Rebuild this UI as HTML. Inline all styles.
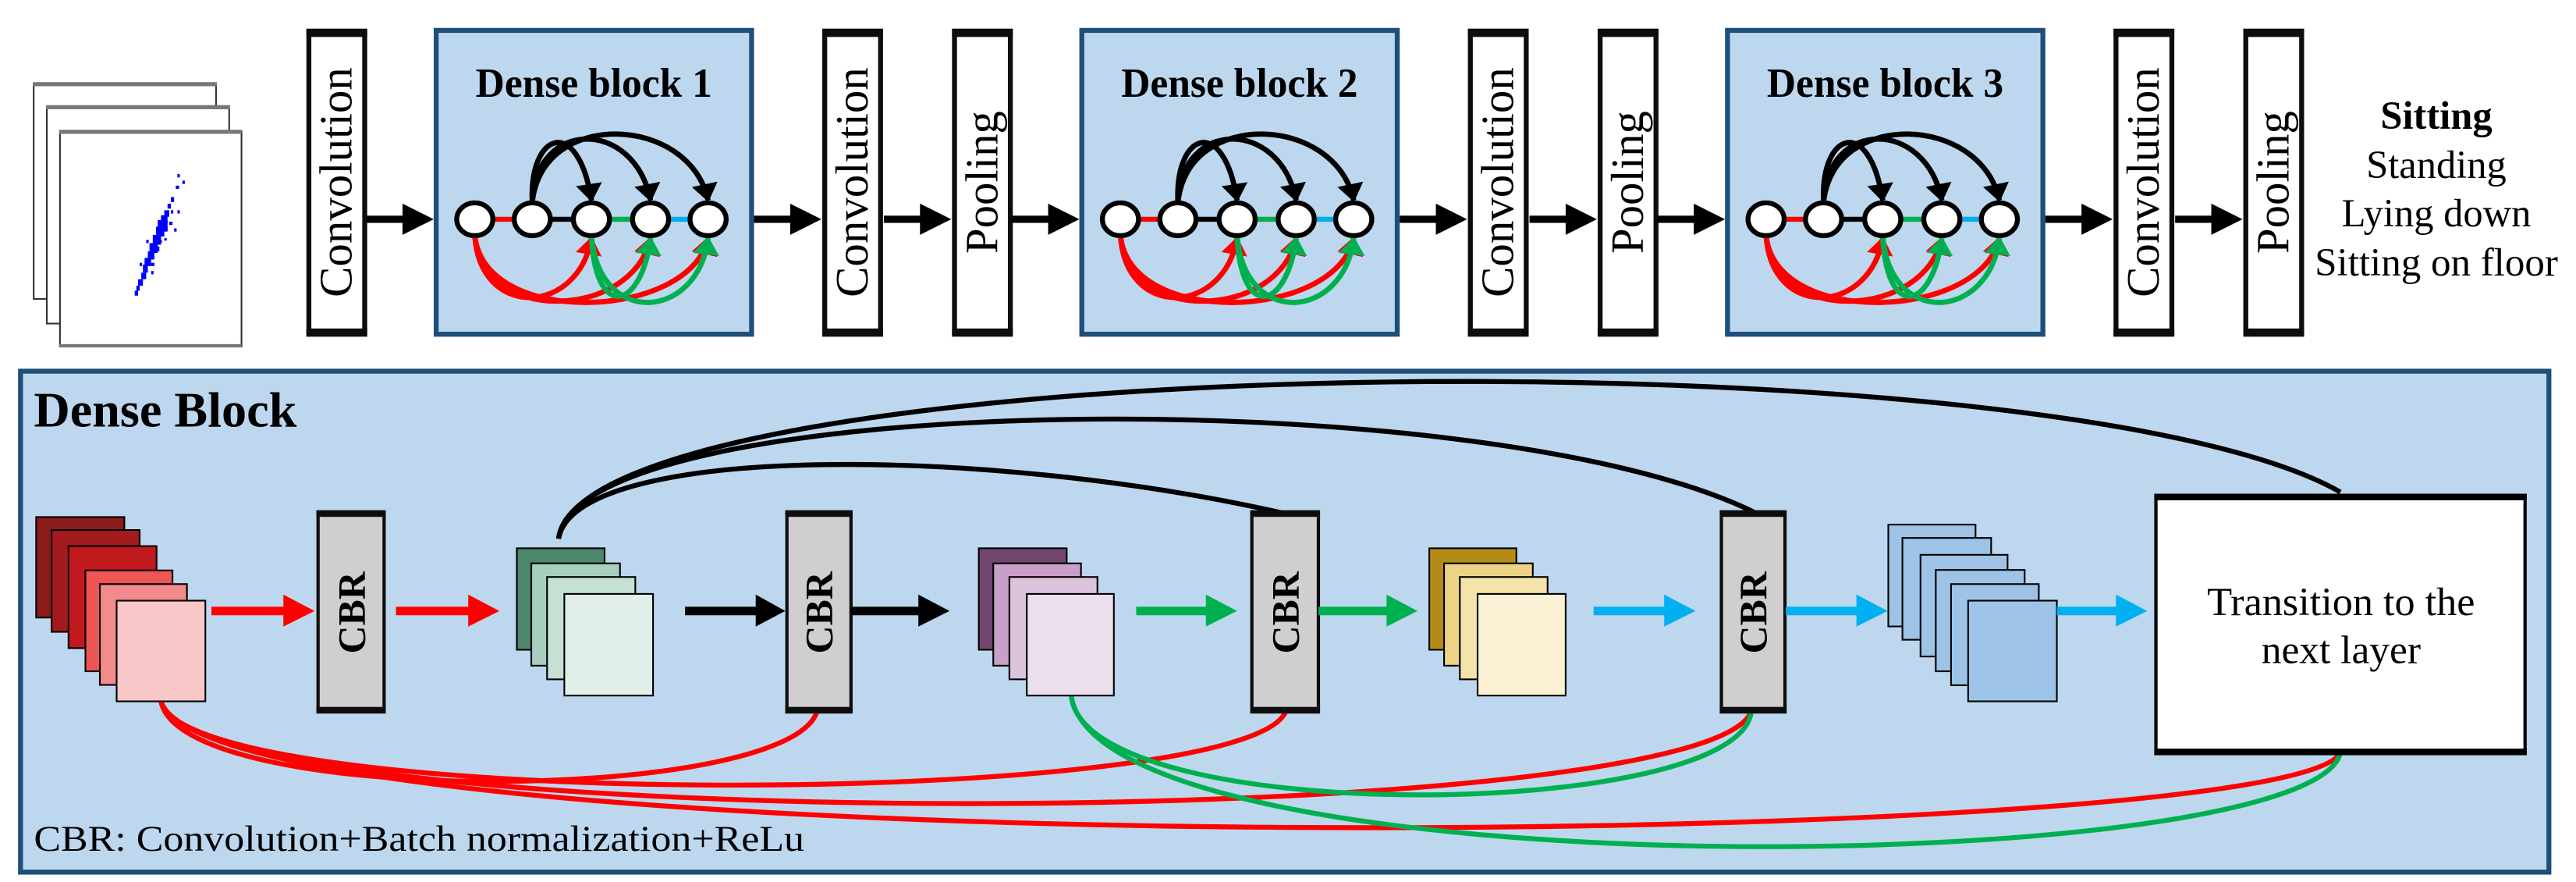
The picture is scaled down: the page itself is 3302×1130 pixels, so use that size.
<!DOCTYPE html>
<html><head><meta charset="utf-8"><style>
html,body{margin:0;padding:0;background:#fff}
svg{display:block}
text{font-family:"Liberation Serif","Times New Roman",serif}
</style></head><body>
<svg width="3302" height="1130" viewBox="0 0 1568 537" preserveAspectRatio="none" xmlns="http://www.w3.org/2000/svg" font-family="'Liberation Serif', 'Times New Roman', serif">
<defs>
<marker id="ab" markerWidth="11" markerHeight="16" refX="10" refY="8" orient="auto" markerUnits="userSpaceOnUse"><path d="M0,0 L11,8 L0,16 Z" fill="#000"/></marker>
<marker id="ar" markerWidth="11" markerHeight="16" refX="10" refY="8" orient="auto" markerUnits="userSpaceOnUse"><path d="M0,0 L11,8 L0,16 Z" fill="#ff0000"/></marker>
<marker id="ag" markerWidth="11" markerHeight="16" refX="10" refY="8" orient="auto" markerUnits="userSpaceOnUse"><path d="M0,0 L11,8 L0,16 Z" fill="#00b050"/></marker>
<g id="db">
 <path d="M324,123 C322,80 352,70 360,122" fill="none" stroke="#000" stroke-width="3.2" marker-end="url(#ab)"/>
 <path d="M324,123 C326,72 386,72 396,122" fill="none" stroke="#000" stroke-width="3.2" marker-end="url(#ab)"/>
 <path d="M324,123 C330,66 420,70 431,122" fill="none" stroke="#000" stroke-width="3.2" marker-end="url(#ab)"/>
 <path d="M289,143 C292,195 352,192 360,145" fill="none" stroke="#ff0000" stroke-width="3.2" marker-end="url(#ar)"/>
 <path d="M289,143 C292,198 385,195 396,145" fill="none" stroke="#ff0000" stroke-width="3.2" marker-end="url(#ar)"/>
 <path d="M289,143 C294,200 420,195 431,145" fill="none" stroke="#ff0000" stroke-width="3.2" marker-end="url(#ar)"/>
 <path d="M360,143 C362,195 390,190 396,145" fill="none" stroke="#00b050" stroke-width="3.2" marker-end="url(#ag)"/>
 <path d="M360,143 C364,200 425,195 431,145" fill="none" stroke="#00b050" stroke-width="3.2" marker-end="url(#ag)"/>
 <line x1="300" y1="133.5" x2="313" y2="133.5" stroke="#ff0000" stroke-width="3"/>
 <line x1="335" y1="133.5" x2="349" y2="133.5" stroke="#000" stroke-width="3"/>
 <line x1="371" y1="133.5" x2="385" y2="133.5" stroke="#00b050" stroke-width="3"/>
 <line x1="407" y1="133.5" x2="420" y2="133.5" stroke="#00b0f0" stroke-width="3"/>
 <g fill="#fff" stroke="#000" stroke-width="3">
  <ellipse cx="289" cy="133.5" rx="11" ry="10"/><ellipse cx="324" cy="133.5" rx="11" ry="10"/><ellipse cx="360" cy="133.5" rx="11" ry="10"/><ellipse cx="396" cy="133.5" rx="11" ry="10"/><ellipse cx="431" cy="133.5" rx="11" ry="10"/>
 </g>
</g>
<g id="arr"><rect x="0" y="131.3" width="24" height="4.4" fill="#000"/><path d="M22,124 L41,133.5 L22,143 Z" fill="#000"/></g>
</defs>

<g fill="#fff" stroke="#333" stroke-width="1">
<rect x="20.5" y="51" width="111" height="131"/>
<rect x="28.5" y="65" width="111" height="132"/>
<rect x="36.5" y="80" width="110.5" height="131"/>
</g>
<g fill="#777"><rect x="20" y="50" width="112" height="2.5"/><rect x="28" y="64" width="112" height="2.5"/><rect x="36" y="79" width="111" height="2.5"/><rect x="36" y="209.5" width="111" height="2"/></g>
<g fill="#0000ff">
<rect x="108" y="106" width="1.5" height="2"/><rect x="111" y="110" width="1.5" height="2"/><rect x="107" y="113" width="2" height="2"/>
<rect x="104" y="120" width="2" height="3"/><rect x="102" y="124" width="2" height="3"/><rect x="100" y="128" width="3" height="4"/>
<rect x="98" y="131" width="4" height="5"/><rect x="96" y="134" width="6" height="6"/><rect x="95" y="138" width="5" height="6"/>
<rect x="99" y="138" width="3" height="3"/><rect x="103" y="135" width="2" height="2"/><rect x="106" y="139" width="1.5" height="2"/>
<rect x="93" y="143" width="5" height="6"/><rect x="91" y="148" width="5" height="6"/><rect x="90" y="153" width="4" height="5"/>
<rect x="95" y="150" width="2" height="3"/><rect x="88" y="157" width="4" height="5"/><rect x="87" y="161" width="3" height="5"/>
<rect x="92" y="160" width="2" height="2"/><rect x="86" y="166" width="3" height="4"/><rect x="84" y="170" width="3" height="4"/>
<rect x="83" y="174" width="2" height="3"/><rect x="82" y="177" width="2" height="3"/><rect x="97" y="146" width="1.5" height="2"/>
<rect x="89" y="146" width="1.5" height="2"/><rect x="85" y="160" width="1.5" height="2"/><rect x="104" y="128" width="1.5" height="2"/>
<rect x="108" y="128" width="1.5" height="2"/><rect x="100" y="145" width="1.5" height="1.5"/><rect x="92" y="165" width="1.5" height="2"/>
</g>

<g fill="#fff" stroke="#0d0d0d" stroke-width="3">
<rect x="188" y="19" width="34" height="184"/>
<rect x="502" y="19" width="34" height="184"/>
<rect x="581" y="19" width="34" height="184"/>
<rect x="895" y="19" width="34" height="184"/>
<rect x="974" y="19" width="34" height="184"/>
<rect x="1288" y="19" width="34" height="184"/>
<rect x="1367" y="19" width="34" height="184"/>
</g>
<g fill="#0d0d0d">
<rect x="186.5" y="17.5" width="37" height="5"/><rect x="186.5" y="200" width="37" height="5"/>
<rect x="500.5" y="17.5" width="37" height="5"/><rect x="500.5" y="200" width="37" height="5"/>
<rect x="579.5" y="17.5" width="37" height="5"/><rect x="579.5" y="200" width="37" height="5"/>
<rect x="893.5" y="17.5" width="37" height="5"/><rect x="893.5" y="200" width="37" height="5"/>
<rect x="972.5" y="17.5" width="37" height="5"/><rect x="972.5" y="200" width="37" height="5"/>
<rect x="1286.5" y="17.5" width="37" height="5"/><rect x="1286.5" y="200" width="37" height="5"/>
<rect x="1365.5" y="17.5" width="37" height="5"/><rect x="1365.5" y="200" width="37" height="5"/>
</g>
<g font-size="28" text-anchor="middle">
<text transform="translate(214,111) rotate(-90)" textLength="140" lengthAdjust="spacingAndGlyphs">Convolution</text>
<text transform="translate(528,111) rotate(-90)" textLength="140" lengthAdjust="spacingAndGlyphs">Convolution</text>
<text transform="translate(607,111) rotate(-90)" textLength="87" lengthAdjust="spacingAndGlyphs">Pooling</text>
<text transform="translate(921,111) rotate(-90)" textLength="140" lengthAdjust="spacingAndGlyphs">Convolution</text>
<text transform="translate(1000,111) rotate(-90)" textLength="87" lengthAdjust="spacingAndGlyphs">Pooling</text>
<text transform="translate(1314,111) rotate(-90)" textLength="140" lengthAdjust="spacingAndGlyphs">Convolution</text>
<text transform="translate(1393,111) rotate(-90)" textLength="87" lengthAdjust="spacingAndGlyphs">Pooling</text>
</g>

<g fill="#bdd7ee" stroke="#1f4e79" stroke-width="3">
<rect x="265.5" y="18.5" width="192" height="185"/>
<rect x="658.5" y="18.5" width="192" height="185"/>
<rect x="1051.5" y="18.5" width="192" height="185"/>
</g>
<g font-size="25" font-weight="bold" text-anchor="middle">
<text x="361.5" y="59" textLength="144" lengthAdjust="spacingAndGlyphs">Dense block 1</text>
<text x="754.5" y="59" textLength="144" lengthAdjust="spacingAndGlyphs">Dense block 2</text>
<text x="1147.5" y="59" textLength="144" lengthAdjust="spacingAndGlyphs">Dense block 3</text>
</g>
<use href="#db"/>
<use href="#db" transform="translate(393,0)"/>
<use href="#db" transform="translate(786,0)"/>

<use href="#arr" transform="translate(223,0)"/>
<use href="#arr" transform="translate(459,0)"/>
<use href="#arr" transform="translate(538,0)"/>
<use href="#arr" transform="translate(616,0)"/>
<use href="#arr" transform="translate(852,0)"/>
<use href="#arr" transform="translate(931,0)"/>
<use href="#arr" transform="translate(1009,0)"/>
<use href="#arr" transform="translate(1245,0)"/>
<use href="#arr" transform="translate(1324,0)"/>

<g font-size="24" text-anchor="middle">
<text x="1483" y="78.4" font-weight="bold">Sitting</text>
<text x="1483" y="108.4">Standing</text>
<text x="1483" y="137.7">Lying down</text>
<text x="1483" y="167.8" textLength="148" lengthAdjust="spacingAndGlyphs">Sitting on floor</text>
</g>

<rect x="12.5" y="226" width="1539" height="305" fill="#bdd7ee" stroke="#1f4e79" stroke-width="3"/>
<text x="20.6" y="259.6" font-size="30" font-weight="bold" textLength="160" lengthAdjust="spacingAndGlyphs">Dense Block</text>
<text x="20.6" y="518" font-size="22" textLength="469" lengthAdjust="spacingAndGlyphs">CBR: Convolution+Batch normalization+ReLu</text>

<g fill="none" stroke-width="3">
<path d="M340,328 C350,270 600,271 782.7,312.8" stroke="#000"/>
<path d="M340,328 C350,238 900,230 1067.5,311.7" stroke="#000"/>
<path d="M340,328 C355,212 1250,200 1424.6,299.6" stroke="#000"/>
<path d="M98,427 C110,492 480,490 497.4,433" stroke="#ff0000"/>
<path d="M98,427 C115,495 760,493 782.7,433" stroke="#ff0000"/>
<path d="M98,427 C120,510 1040,508 1066,433" stroke="#ff0000"/>
<path d="M98,427 C130,528 1400,520 1424.6,458" stroke="#ff0000"/>
<path d="M652,423.5 C660,505 1060,500 1066,433" stroke="#00b050"/>
<path d="M652,423.5 C670,545 1410,535 1424.6,458" stroke="#00b050"/>
</g>

<g stroke="#000" stroke-width="1">
<rect x="22" y="314.8" width="53.7" height="61.2" fill="#8b1a1a"/>
<rect x="31.4" y="322.7" width="53.6" height="62" fill="#a31b1f"/>
<rect x="41.7" y="332.5" width="53.6" height="62.1" fill="#c0191e"/>
<rect x="52" y="347.3" width="53" height="61.4" fill="#ee5555"/>
<rect x="60.8" y="355.6" width="53" height="61.4" fill="#f28b8b"/>
<rect x="71" y="365.7" width="54" height="61.3" fill="#f8c8c8"/>

<rect x="314.6" y="333.8" width="53.4" height="61.8" fill="#4a876b"/>
<rect x="323.4" y="343" width="54" height="62.3" fill="#a8cfbe"/>
<rect x="333" y="351.3" width="53.7" height="62.3" fill="#c6e0d4"/>
<rect x="343.5" y="361.6" width="54" height="61.9" fill="#e2efe8"/>

<rect x="595.8" y="333.8" width="53.5" height="61.8" fill="#734670"/>
<rect x="604.6" y="343" width="53.4" height="62.3" fill="#c79fc8"/>
<rect x="614.4" y="351.3" width="53.6" height="62.3" fill="#dcc3dd"/>
<rect x="625" y="361.6" width="53" height="61.9" fill="#ebdfed"/>

<rect x="870" y="333.8" width="53" height="61.8" fill="#b48b17"/>
<rect x="879" y="343" width="54" height="62.3" fill="#edd385"/>
<rect x="888.6" y="351.3" width="53.4" height="62.3" fill="#f4e3ab"/>
<rect x="899.4" y="361.6" width="53.6" height="61.9" fill="#fbf2d6"/>

<rect x="1149.4" y="319.4" width="53.1" height="62" fill="#9dc3e6"/>
<rect x="1158" y="327.5" width="54" height="62" fill="#9dc3e6"/>
<rect x="1169" y="337.8" width="53" height="61.9" fill="#9dc3e6"/>
<rect x="1178.3" y="347" width="54.1" height="61.7" fill="#9dc3e6"/>
<rect x="1187.6" y="355.6" width="53.4" height="61.6" fill="#9dc3e6"/>
<rect x="1198" y="365.7" width="54" height="61.3" fill="#9dc3e6"/>
</g>

<g fill="#d0cece" stroke="#0d0d0d" stroke-width="2">
<rect x="193.6" y="311.7" width="40.2" height="121.7"/>
<rect x="479" y="311.7" width="39" height="121.7"/>
<rect x="762" y="311.7" width="40.5" height="121.7"/>
<rect x="1047.8" y="311.7" width="38.7" height="121.7"/>
</g>
<g fill="#0d0d0d">
<rect x="192.6" y="310.7" width="42.2" height="4"/><rect x="192.6" y="430.4" width="42.2" height="4"/>
<rect x="478" y="310.7" width="41" height="4"/><rect x="478" y="430.4" width="41" height="4"/>
<rect x="761" y="310.7" width="42.5" height="4"/><rect x="761" y="430.4" width="42.5" height="4"/>
<rect x="1046.8" y="310.7" width="40.7" height="4"/><rect x="1046.8" y="430.4" width="40.7" height="4"/>
</g>
<g font-size="23.5" font-weight="bold" text-anchor="middle">
<text transform="translate(222,373) rotate(-90)" textLength="50" lengthAdjust="spacingAndGlyphs">CBR</text>
<text transform="translate(506.5,373) rotate(-90)" textLength="50" lengthAdjust="spacingAndGlyphs">CBR</text>
<text transform="translate(790.5,373) rotate(-90)" textLength="50" lengthAdjust="spacingAndGlyphs">CBR</text>
<text transform="translate(1075,373) rotate(-90)" textLength="50" lengthAdjust="spacingAndGlyphs">CBR</text>
</g>

<rect x="1312.3" y="301.6" width="224.7" height="157.2" fill="#fff" stroke="#000" stroke-width="2"/>
<rect x="1311.3" y="300.6" width="226.7" height="4" fill="#000"/>
<rect x="1311.3" y="455.8" width="226.7" height="4" fill="#000"/>
<g font-size="24" text-anchor="middle">
<text x="1425" y="374.4" textLength="163" lengthAdjust="spacingAndGlyphs">Transition to the</text>
<text x="1425" y="403.6" textLength="97" lengthAdjust="spacingAndGlyphs">next layer</text>
</g>

<g>
<rect x="128.7" y="369.4" width="46" height="5.2" fill="#ff0000"/><path d="M172.5,362 L191.5,372 L172.5,381.5 Z" fill="#ff0000"/>
<rect x="241" y="369.4" width="46" height="5.2" fill="#ff0000"/><path d="M285,362 L304,372 L285,381.5 Z" fill="#ff0000"/>
<rect x="417" y="369.4" width="45" height="5.2" fill="#000"/><path d="M460,362 L478,372 L460,381.5 Z" fill="#000"/>
<rect x="518" y="369.4" width="43" height="5.2" fill="#000"/><path d="M559,362 L578,372 L559,381.5 Z" fill="#000"/>
<rect x="691.6" y="369.4" width="45" height="5.2" fill="#00b050"/><path d="M734,362 L753,372 L734,381.5 Z" fill="#00b050"/>
<rect x="802.5" y="369.4" width="44" height="5.2" fill="#00b050"/><path d="M844,362 L862.8,372 L844,381.5 Z" fill="#00b050"/>
<rect x="970" y="369.4" width="45" height="5.2" fill="#00b0f0"/><path d="M1013,362 L1032,372 L1013,381.5 Z" fill="#00b0f0"/>
<rect x="1087" y="369.4" width="45" height="5.2" fill="#00b0f0"/><path d="M1130,362 L1149,372 L1130,381.5 Z" fill="#00b0f0"/>
<rect x="1252" y="369.4" width="38" height="5.2" fill="#00b0f0"/><path d="M1288,362 L1307,372 L1288,381.5 Z" fill="#00b0f0"/>
</g>
</svg>
</body></html>
